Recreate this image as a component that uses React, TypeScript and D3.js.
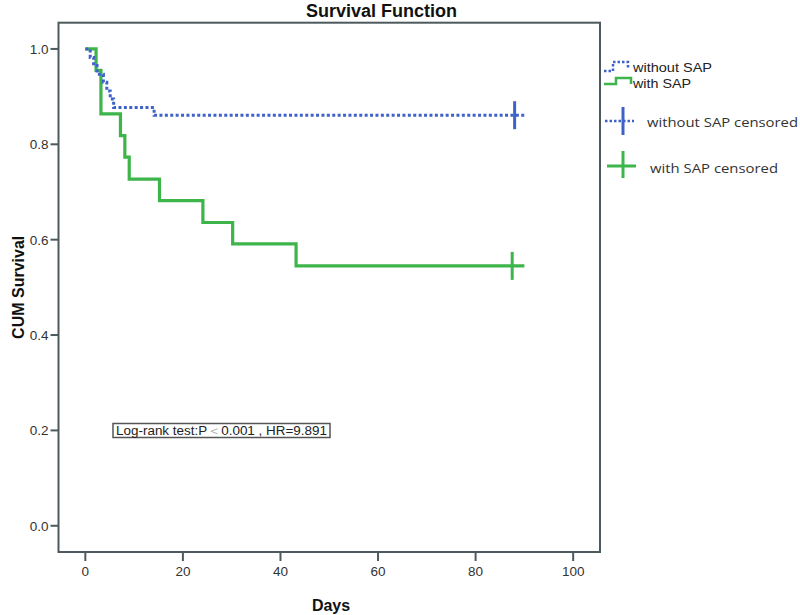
import React from "react";
import * as d3 from "d3";

const xTicks = [0, 20, 40, 60, 80, 100];
const yTicks = [0.0, 0.2, 0.4, 0.6, 0.8, 1.0];

const withoutTimes = [0, 1, 1.7, 2.4, 3.7, 4.4, 5.1, 5.8, 14.1];
const withoutValues = [1, 0.982, 0.965, 0.947, 0.93, 0.912, 0.895, 0.877, 0.861];
const withoutEnd = 90;
const withoutCensor = 88;

const withTimes = [0, 2.2, 3.2, 7.2, 8.1, 9.0, 15.2, 24.1, 30.2, 43.2];
const withValues = [1, 0.955, 0.864, 0.818, 0.773, 0.727, 0.682, 0.636, 0.591, 0.545];
const withEnd = 90;
const withCensor = 87.5;

const legendLabels = ["without SAP", "with SAP", "without SAP censored", "with SAP censored"];
const annotation = ["Log-rank test:P", "＜", "0.001 , HR=9.891"];

const BLUE = "#3f62c8";
const GREEN = "#3db54a";
const AXIS = "#4c5a5e";
const FONT = "'Liberation Sans', Arial, sans-serif";

export default function App() {
  const W = 800, H = 615;
  const left = 58.5, right = 600, top = 22.7, bottom = 552;
  const x = d3.scaleLinear().domain([-5.5, 105.5]).range([left, right]);
  const y = d3.scaleLinear().domain([-0.055, 1.055]).range([bottom, top]);

  const line = d3
    .line<[number, number]>()
    .x((d) => x(d[0]))
    .y((d) => y(d[1]))
    .curve(d3.curveStepAfter);

  const mk = (t: number[], v: number[], end: number): [number, number][] => {
    const pts: [number, number][] = t.map((tt, i) => [tt, v[i]]);
    pts.push([end, v[v.length - 1]]);
    return pts;
  };
  const bluePath = line(mk(withoutTimes, withoutValues, withoutEnd)) || "";
  const greenPath = line(mk(withTimes, withValues, withEnd)) || "";
  const blueLast = withoutValues[withoutValues.length - 1];
  const greenLast = withValues[withValues.length - 1];

  return (
    <svg width={W} height={H} style={{ position: "absolute", left: 0, top: 0, background: "#fff" }} fontFamily={FONT}>
      <rect x={0} y={0} width={W} height={H} fill="#fff" />
      <text x={306} y={16.5} textAnchor="start" fontWeight="bold" fontSize={18} fill="#111">
        Survival Function
      </text>
      {/* frame */}
      <rect x={left} y={top} width={right - left} height={bottom - top} fill="none" stroke={AXIS} strokeWidth={2} />
      {/* y axis ticks */}
      {yTicks.map((t) => (
        <g key={"y" + t}>
          <line x1={left - 8} x2={left} y1={y(t)} y2={y(t)} stroke={AXIS} strokeWidth={2} />
          <text x={left - 10} y={y(t)} dy="0.36em" textAnchor="end" fontSize={13.5} fill="#333">
            {t.toFixed(1)}
          </text>
        </g>
      ))}
      {xTicks.map((t) => (
        <g key={"x" + t}>
          <line x1={x(t)} x2={x(t)} y1={bottom} y2={bottom + 9} stroke={AXIS} strokeWidth={2} />
          <text x={x(t)} y={bottom + 24} textAnchor="middle" fontSize={13.5} fill="#333">
            {t}
          </text>
        </g>
      ))}
      <text x={331} y={611} textAnchor="middle" fontWeight="bold" fontSize={16} fill="#111">
        Days
      </text>
      <text transform={`translate(24,${(top + bottom) / 2}) rotate(-90)`} textAnchor="middle" fontWeight="bold" fontSize={16} fill="#111">
        CUM Survival
      </text>
      {/* curves */}
      <path d={greenPath} fill="none" stroke={GREEN} strokeWidth={3.2} />
      <path d={bluePath} fill="none" stroke={BLUE} strokeWidth={3} strokeDasharray="3 2.4" />
      {/* censor marks */}
      <line x1={x(withoutCensor)} x2={x(withoutCensor)} y1={y(blueLast) - 14} y2={y(blueLast) + 14} stroke={BLUE} strokeWidth={3} />
      <line x1={x(withCensor)} x2={x(withCensor)} y1={y(greenLast) - 14} y2={y(greenLast) + 14} stroke={GREEN} strokeWidth={3} />
      {/* annotation */}
      <rect x={113} y={423.5} width={217} height={14} fill="#fff" stroke="#555" strokeWidth={1.5} />
      <text x={116} y={435} fontSize={12.5} fill="#222" textLength={211} lengthAdjust="spacingAndGlyphs">
        {annotation[0]}
        <tspan fill="#aaa">{annotation[1]}</tspan>
        {annotation[2]}
      </text>
      {/* legend */}
      <path d="M604,71 H613 V62 H628 V68" fill="none" stroke={BLUE} strokeWidth={2.5} strokeDasharray="2.5 2" />
      <text x={633} y={71.5} fontSize={13.5} fill="#222" textLength={79} lengthAdjust="spacingAndGlyphs">{legendLabels[0]}</text>
      <path d="M604,84 H616 V78 H631 V84" fill="none" stroke={GREEN} strokeWidth={2.5} />
      <text x={633} y={87.5} fontSize={13.5} fill="#222" textLength={58} lengthAdjust="spacingAndGlyphs">{legendLabels[1]}</text>
      <line x1={605} x2={634} y1={121} y2={121} stroke={BLUE} strokeWidth={2.5} strokeDasharray="2.5 2" />
      <line x1={623} x2={623} y1={107} y2={135} stroke={BLUE} strokeWidth={3} />
      <text x={647} y={126.5} fontSize={13.5} fill="#333" fontFamily="'Open Sans', sans-serif" textLength={151} lengthAdjust="spacingAndGlyphs">{legendLabels[2]}</text>
      <line x1={607} x2={636} y1={166} y2={166} stroke={GREEN} strokeWidth={3} />
      <line x1={623} x2={623} y1={151} y2={178} stroke={GREEN} strokeWidth={3} />
      <text x={650} y={172.5} fontSize={13.5} fill="#333" fontFamily="'Open Sans', sans-serif" textLength={128} lengthAdjust="spacingAndGlyphs">{legendLabels[3]}</text>
    </svg>
  );
}
